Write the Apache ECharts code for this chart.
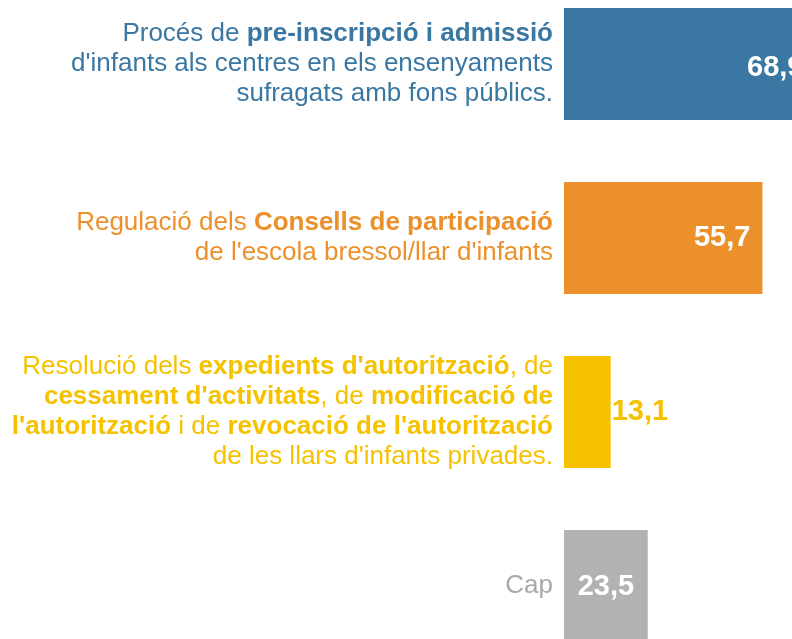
<!DOCTYPE html>
<html>
<head>
<meta charset="utf-8">
<script src="https://cdn.jsdelivr.net/npm/echarts@6/dist/echarts.min.js"></script>
<style>
    html, body { margin: 0; padding: 0; background: #fff; }
    #bar-chart { width: 792px; height: 639px; }
</style>
</head>
<body>
<div id="bar-chart"></div>
<script>
// bold parts of each label are wrapped in ** **
const categories = [
    "Procés de **pre-inscripció i admissió**\nd'infants als centres en els ensenyaments\nsufragats amb fons públics.",
    "Regulació dels **Consells de participació**\nde l'escola bressol/llar d'infants",
    "Resolució dels **expedients d'autorització**, de\n**cessament d'activitats**, de **modificació de**\n**l'autorització** i de **revocació de l'autorització**\nde les llars d'infants privades.",
    "Cap"
];
const values = [68.9, 55.7, 13.1, 23.5];

const barColors = ['#3a77a2', '#eb902b', '#f6c200', '#b2b2b4'];
const textColors = ['#3a77a2', '#eb902b', '#f6c200', '#a9a9a9'];
const FONT = '"Liberation Sans", Arial, sans-serif';

// rich styles: n<i> normal, b<i> bold, one pair per category colour
let rich = {};
textColors.forEach((c, i) => {
    rich['n' + i] = { color: c, fontSize: 26, lineHeight: 30, fontFamily: FONT, align: 'right' };
    rich['b' + i] = { color: c, fontSize: 26, lineHeight: 30, fontFamily: FONT, fontWeight: 'bold', align: 'right' };
});

function formatCategory(value, index) {
    return value.split('\n').map(line => {
        let parts = line.split('**');
        let out = '';
        parts.forEach((p, k) => {
            if (p === '') return;
            out += '{' + (k % 2 ? 'b' : 'n') + index + '|' + p + '}';
        });
        return out;
    }).join('\n');
}

// label placement per bar
const labelPos = ['insideRight', 'insideRight', 'right', 'inside'];
const labelDist = [6, 12, 1, 5];
const labelOffset = [[0, 4], [0, 0], [0, 0], [0, 1]];

let chart = echarts.init(document.getElementById('bar-chart'), null, { renderer: 'canvas' });

let option = {
    animation: false,
    grid: { left: 564, right: 0, top: -23, bottom: -34, containLabel: false, outerBoundsMode: 'none' },
    xAxis: { type: 'value', min: 0, max: 64, show: false },
    yAxis: {
        type: 'category',
        inverse: true,
        data: categories,
        axisLine: { show: false },
        axisTick: { show: false },
        splitLine: { show: false },
        axisLabel: { margin: 11, formatter: formatCategory, rich: rich }
    },
    series: [{
        type: 'bar',
        barWidth: 112,
        clip: false,
        data: values.map((v, i) => ({
            value: v,
            itemStyle: { color: barColors[i] },
            label: {
                show: true,
                position: labelPos[i],
                distance: labelDist[i],
                offset: labelOffset[i],
                color: i === 2 ? textColors[2] : '#fff',
                fontSize: 29,
                fontWeight: 'bold',
                fontFamily: FONT,
                formatter: p => String(p.value).replace('.', ',')
            }
        }))
    }]
};

chart.setOption(option);
</script>
</body>
</html>
